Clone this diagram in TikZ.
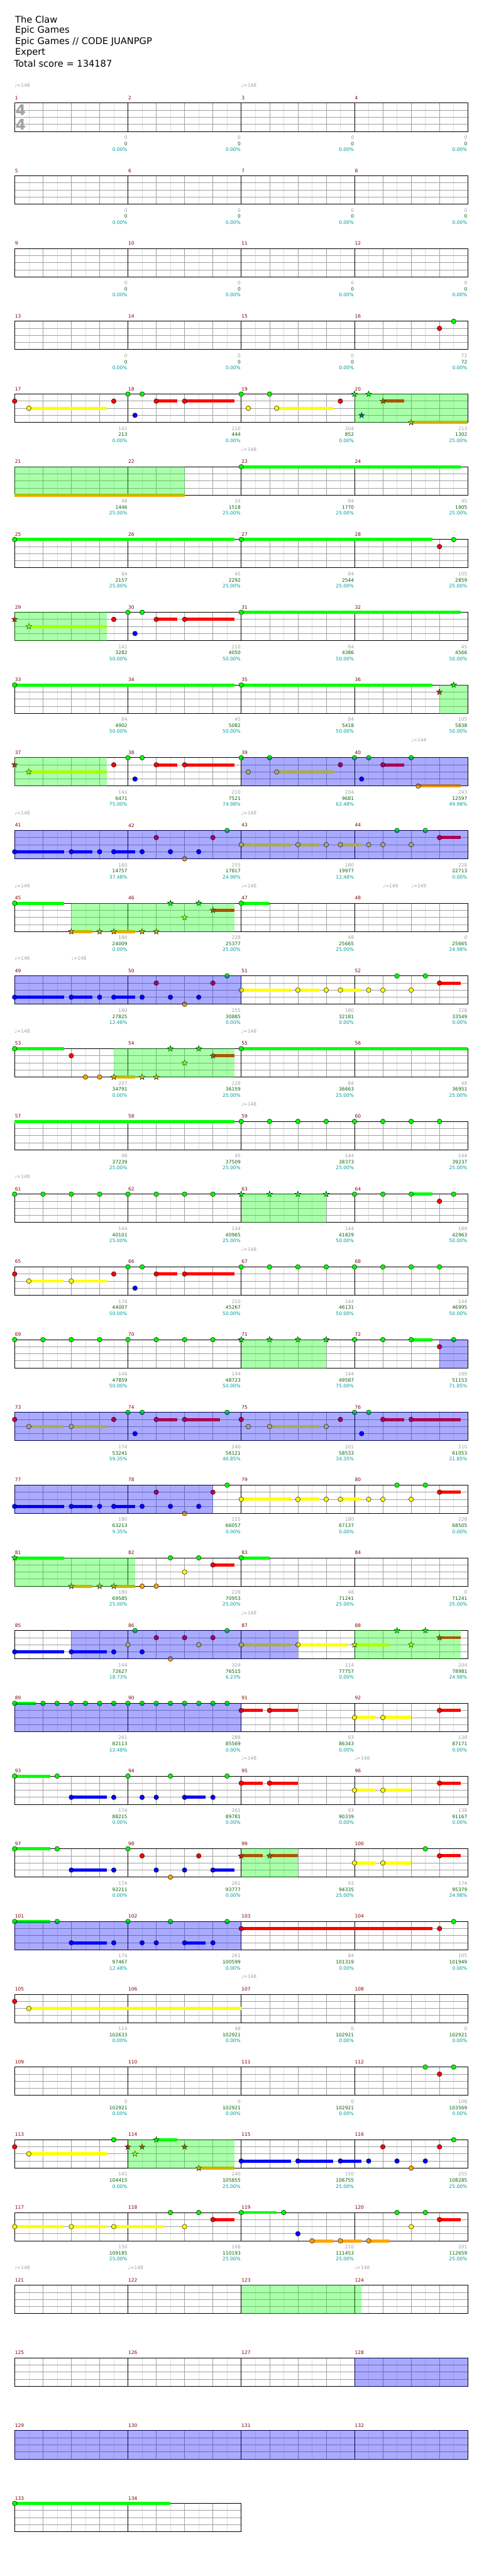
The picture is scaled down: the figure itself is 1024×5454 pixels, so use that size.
\documentclass[tikz,border=0pt]{standalone}
\usepackage{fontspec}
\setmainfont{DejaVu Sans}
\definecolor{lane0}{RGB}{0,255,0}
\definecolor{lane1}{RGB}{255,0,0}
\definecolor{lane2}{RGB}{255,255,0}
\definecolor{lane3}{RGB}{0,0,255}
\definecolor{lane4}{RGB}{255,165,0}
\definecolor{gridgray}{RGB}{160,160,160}
\definecolor{subgray}{RGB}{222,222,222}
\definecolor{numred}{RGB}{128,0,0}
\definecolor{scoregreen}{RGB}{0,100,0}
\definecolor{pctteal}{RGB}{0,155,155}

% one row of the chart: row index, number of measures
\newcommand{\staff}[2]{%
  \pgfmathsetmacro{\rtop}{218.3+154*#1}%
  \pgfmathsetmacro{\rwid}{240*#2}%
  \pgfmathtruncatemacro{\nsub}{8*#2-1}%
  \pgfmathtruncatemacro{\nbeat}{8*#2-2}%
  \foreach \i in {1,3,...,\nsub} {\draw[subline] ({31+30*\i},\rtop) -- ++(0,60);}
  \foreach \i in {2,4,...,\nbeat} {\draw[beatline] ({31+30*\i},\rtop) -- ++(0,60);}
  \foreach \l in {1,2,3} {\draw[laneline] (31,{\rtop+15*\l}) -- ++(\rwid,0);}
  \foreach \i in {8,16,...,\nbeat} {\draw[barline] ({31+30*\i},\rtop) -- ++(0,60);}
  \draw[border] (31,\rtop) rectangle ++(\rwid,60);
}
% note: row, eighth, lane
\newcommand{\nt}[3]{\draw[note, fill=lane#3] ({31+30*#2},{218.3+154*#1+15*#3}) circle (5);}
% star power note: row, eighth, lane
\newcommand{\st}[3]{\draw[note, fill=lane#3, shift={({31+30*#2},{218.3+154*#1+15*#3})}]
  (-90:6.5) -- (-54:2.6) -- (-18:6.5) -- (18:2.6) -- (54:6.5) -- (90:2.6)
  -- (126:6.5) -- (162:2.6) -- (198:6.5) -- (234:2.6) -- cycle;}
% sustain: row, from, to, lane
\newcommand{\sus}[4]{\fill[lane#4] ({31+30*#2},{218.3+154*#1+15*#4-3.3}) rectangle ({31+30*#3},{218.3+154*#1+15*#4+3.3});}
% star power phrase and activation: row, from, to
\newcommand{\spr}[3]{\fill[green, fill opacity=0.333] ({31+30*#2},{218.3+154*#1-0.7}) rectangle ({31+30*#3},{218.3+154*#1+60.7});}
\newcommand{\act}[3]{\fill[blue, fill opacity=0.333] ({31+30*#2},{218.3+154*#1-0.7}) rectangle ({31+30*#3},{218.3+154*#1+60.7});}
% tempo mark: row, eighth, bpm
\newcommand{\tempo}[3]{\node[tempo] (t#1-#2) at ({31+30*#2},{218.3+154*#1-37}) {♩=#3};}
% measure totals: measure, notes, score, percent
\newcommand{\lab}[4]{%
  \pgfmathtruncatemacro{\lr}{(#1-1)/4}%
  \pgfmathtruncatemacro{\lc}{mod(#1-1,4)}%
  \node[cnt] (c#1) at ({30+240*(\lc+1)},{218.3+154*\lr+73}) {#2};
  \node[scr] (s#1) at ({30+240*(\lc+1)},{218.3+154*\lr+86}) {#3};
  \node[pct] (p#1) at ({30+240*(\lc+1)},{218.3+154*\lr+98.5}) {#4\%};
}

\begin{document}
\begin{tikzpicture}[x=1pt, y=-1pt,
    subline/.style={draw=subgray, line width=0.8pt},
    beatline/.style={draw=gridgray, line width=0.8pt},
    laneline/.style={draw=gridgray, line width=1.1pt},
    barline/.style={draw=black, line width=0.8pt},
    border/.style={draw=black, line width=1.3pt},
    note/.style={draw=black, line width=0.6pt},
    title/.style={anchor=west, inner sep=0pt, font=\fontsize{19.5}{23}\selectfont},
    mnum/.style={anchor=west, inner sep=0.5pt, text=numred, font=\fontsize{10}{12}\selectfont},
    cnt/.style={anchor=east, inner sep=0pt, text=gridgray, font=\fontsize{10}{12}\selectfont},
    scr/.style={anchor=east, inner sep=0pt, text=scoregreen, font=\fontsize{10}{12}\selectfont},
    pct/.style={anchor=east, inner sep=0pt, text=pctteal, font=\fontsize{10}{12}\selectfont},
    tempo/.style={anchor=west, inner sep=0pt, text=gridgray, font=\fontsize{10}{12}\selectfont},
    tsig/.style={inner sep=0pt, text=gridgray, font=\fontsize{31}{31}\bfseries}]

  \useasboundingbox (0,0) rectangle (1024,5454);
  \fill[white] (0,0) rectangle (1024,5454);

  % Header
  \node[title] (song) at (32,42) {The Claw};
  \node[title] (artist) at (32,65) {Epic Games};
  \node[title] (album) at (32,88) {Epic Games // CODE JUANPGP};
  \node[title] (level) at (32,111) {Expert};
  \node[title] (total) at (30,134) {Total score = 134187};

  % Staves
  \foreach \r in {0,...,32} {\staff{\r}{4}}
  \staff{33}{2}
  \node[tsig] (ts1) at (44,233.5) {4};
  \node[tsig] (ts2) at (44,263.5) {4};

  % Measure numbers
  \foreach \m in {1,...,134} {
    \pgfmathtruncatemacro{\mr}{(\m-1)/4}
    \pgfmathtruncatemacro{\mc}{mod(\m-1,4)}
    \node[mnum] (mn\m) at ({31+240*\mc},{218.3+154*\mr-11}) {\m};
  }

  % Tempo marks
  \tempo{0}{0}{148} \tempo{0}{16}{148}
  \tempo{5}{16}{148}
  \tempo{9}{28}{144}
  \tempo{10}{0}{148} \tempo{10}{16}{148}
  \tempo{11}{0}{149} \tempo{11}{16}{146} \tempo{11}{26}{149} \tempo{11}{28}{149}
  \tempo{12}{0}{146} \tempo{12}{4}{148}
  \tempo{13}{0}{148} \tempo{13}{16}{148}
  \tempo{14}{16}{148}
  \tempo{15}{0}{148}
  \tempo{16}{16}{148}
  \tempo{21}{16}{148}
  \tempo{23}{16}{148} \tempo{23}{24}{148}
  \tempo{26}{16}{148}
  \tempo{30}{0}{148} \tempo{30}{8}{148} \tempo{30}{24}{148}

  % Totals under each measure
  \foreach \m in {1,...,15} {\lab{\m}{0}{0}{0.00}}
  \foreach \m/\a/\b/\c in {16/72/72/0.00,
      17/141/213/0.00, 18/210/444/0.00, 19/204/852/0.00, 20/213/1302/25.00,
      21/48/1446/25.00, 22/24/1518/25.00, 23/84/1770/25.00, 24/45/1905/25.00,
      25/84/2157/25.00, 26/45/2292/25.00, 27/84/2544/25.00, 28/105/2859/25.00,
      29/141/3282/50.00, 30/210/4050/50.00, 31/84/4386/50.00, 32/45/4566/50.00,
      33/84/4902/50.00, 34/45/5082/50.00, 35/84/5418/50.00, 36/105/5838/50.00,
      37/141/6471/75.00, 38/210/7521/74.98, 39/204/9681/62.48, 40/243/12597/49.98,
      41/180/14757/37.48, 42/255/17817/24.98, 43/180/19977/12.48, 44/228/22713/0.00,
      45/180/24009/0.00, 46/228/25377/25.00, 47/48/25665/25.00, 48/0/25665/24.98,
      49/180/27825/12.48, 50/255/30885/0.00, 51/180/32181/0.00, 52/228/33549/0.00,
      53/207/34791/0.00, 54/228/36159/25.00, 55/84/36663/25.00, 56/48/36951/25.00,
      57/48/37239/25.00, 58/45/37509/25.00, 59/144/38373/25.00, 60/144/39237/25.00,
      61/144/40101/25.00, 62/144/40965/25.00, 63/144/41829/50.00, 64/189/42963/50.00,
      65/174/44007/50.00, 66/210/45267/50.00, 67/144/46131/50.00, 68/144/46995/50.00,
      69/144/47859/50.00, 70/144/48723/50.00, 71/144/49587/75.00, 72/189/51153/71.85,
      73/174/53241/59.35, 74/240/56121/46.85, 75/201/58533/34.35, 76/210/61053/21.85,
      77/180/63213/9.35, 78/255/66057/0.00, 79/180/67137/0.00, 80/228/68505/0.00,
      81/180/69585/25.00, 82/228/70953/25.00, 83/48/71241/25.00, 84/0/71241/25.00,
      85/144/72627/18.73, 86/324/76515/6.23, 87/114/77757/0.00, 88/204/78981/24.98,
      89/261/82113/12.48, 90/288/85569/0.00, 91/93/86343/0.00, 92/138/87171/0.00,
      93/174/88215/0.00, 94/261/89781/0.00, 95/93/90339/0.00, 96/138/91167/0.00,
      97/174/92211/0.00, 98/261/93777/0.00, 99/93/94335/25.00, 100/174/95379/24.98,
      101/174/97467/12.48, 102/261/100599/0.00, 103/84/101319/0.00, 104/105/101949/0.00,
      105/114/102633/0.00, 106/48/102921/0.00, 107/0/102921/0.00, 108/0/102921/0.00,
      109/0/102921/0.00, 110/0/102921/0.00, 111/0/102921/0.00, 112/108/103569/0.00,
      113/141/104415/0.00, 114/240/105855/25.00, 115/150/106755/25.00, 116/255/108285/25.00,
      117/150/109185/25.00, 118/168/110193/25.00, 119/210/111453/25.00, 120/201/112659/25.00}
    {\lab{\m}{\a}{\b}{\c}}

  % 13-16
  \nt{3}{30}{1} \nt{3}{31}{0}

  % 17-20
  \sus{4}{1}{6.5}{2} \sus{4}{10}{11.5}{1} \sus{4}{12}{15.5}{1} \sus{4}{18.5}{22.5}{2}
  \sus{4}{26}{27.5}{1} \sus{4}{28}{32}{4}
  \nt{4}{0}{1} \nt{4}{1}{2} \nt{4}{7}{1} \nt{4}{8}{0} \nt{4}{8.5}{3} \nt{4}{9}{0}
  \nt{4}{10}{1} \nt{4}{12}{1} \nt{4}{16}{0} \nt{4}{16.5}{2} \nt{4}{18}{0} \nt{4}{18.5}{2} \nt{4}{23}{1}
  \st{4}{24}{0} \st{4}{25}{0} \st{4}{24.5}{3} \st{4}{26}{1} \st{4}{28}{4}
  \spr{4}{24}{32}

  % 21-24
  \sus{5}{0}{12}{4} \sus{5}{16}{31.5}{0}
  \nt{5}{16}{0}
  \spr{5}{0}{12}

  % 25-28
  \sus{6}{0}{15.5}{0} \sus{6}{16}{29.5}{0}
  \nt{6}{0}{0} \nt{6}{16}{0} \nt{6}{30}{1} \nt{6}{31}{0}

  % 29-32
  \sus{7}{1}{6.5}{2} \sus{7}{10}{11.5}{1} \sus{7}{12}{15.5}{1} \sus{7}{16}{31.5}{0}
  \st{7}{0}{1} \st{7}{1}{2}
  \nt{7}{7}{1} \nt{7}{8}{0} \nt{7}{8.5}{3} \nt{7}{9}{0} \nt{7}{10}{1} \nt{7}{12}{1} \nt{7}{16}{0}
  \spr{7}{0}{6.5}

  % 33-36
  \sus{8}{0}{15.5}{0} \sus{8}{16}{29.5}{0}
  \nt{8}{0}{0} \nt{8}{16}{0} \st{8}{30}{1} \st{8}{31}{0}
  \spr{8}{30}{32}

  % 37-40
  \sus{9}{1}{6.5}{2} \sus{9}{10}{11.5}{1} \sus{9}{12}{15.5}{1} \sus{9}{18.5}{22.5}{2}
  \sus{9}{26}{27.5}{1} \sus{9}{28.5}{31.5}{4}
  \st{9}{0}{1} \st{9}{1}{2}
  \nt{9}{7}{1} \nt{9}{8}{0} \nt{9}{8.5}{3} \nt{9}{9}{0} \nt{9}{10}{1} \nt{9}{12}{1}
  \nt{9}{16}{0} \nt{9}{16.5}{2} \nt{9}{18}{0} \nt{9}{18.5}{2} \nt{9}{23}{1} \nt{9}{24}{0}
  \nt{9}{24.5}{3} \nt{9}{25}{0} \nt{9}{26}{1} \nt{9}{28}{0} \nt{9}{28.5}{4}
  \spr{9}{0}{6.5} \act{9}{16}{32}

  % 41-44
  \sus{10}{0}{3.5}{3} \sus{10}{4}{5.5}{3} \sus{10}{7}{8.5}{3} \sus{10}{16}{19.5}{2}
  \sus{10}{20}{21.5}{2} \sus{10}{23}{24.5}{2} \sus{10}{30}{31.5}{1}
  \foreach \e in {0,4,6,7,9,11,13} {\nt{10}{\e}{3}}
  \foreach \e in {10,14,30} {\nt{10}{\e}{1}}
  \foreach \e in {16,20,22,23,25,26,28} {\nt{10}{\e}{2}}
  \foreach \e in {15,27,29} {\nt{10}{\e}{0}}
  \nt{10}{12}{4}
  \act{10}{0}{32}

  % 45-48
  \sus{11}{0}{3.5}{0} \sus{11}{4}{5.5}{4} \sus{11}{7}{8.5}{4} \sus{11}{14}{15.5}{1} \sus{11}{16}{18}{0}
  \nt{11}{0}{0}
  \foreach \e in {4,6,7,9,10} {\st{11}{\e}{4}}
  \st{11}{11}{0} \st{11}{13}{0} \st{11}{12}{2} \st{11}{14}{1}
  \nt{11}{16}{0}
  \spr{11}{4}{15.5}

  % 49-52
  \sus{12}{0}{3.5}{3} \sus{12}{4}{5.5}{3} \sus{12}{7}{8.5}{3} \sus{12}{16}{19.5}{2}
  \sus{12}{20}{21.5}{2} \sus{12}{23}{24.5}{2} \sus{12}{30}{31.5}{1}
  \foreach \e in {0,4,6,7,9,11,13} {\nt{12}{\e}{3}}
  \foreach \e in {10,14,30} {\nt{12}{\e}{1}}
  \foreach \e in {16,20,22,23,25,26,28} {\nt{12}{\e}{2}}
  \foreach \e in {15,27,29} {\nt{12}{\e}{0}}
  \nt{12}{12}{4}
  \act{12}{0}{16}

  % 53-56
  \sus{13}{0}{3.5}{0} \sus{13}{7}{8.5}{4} \sus{13}{14}{15.5}{1} \sus{13}{16}{32}{0}
  \nt{13}{0}{0} \nt{13}{4}{1} \nt{13}{5}{4} \nt{13}{6}{4}
  \foreach \e in {7,9,10} {\st{13}{\e}{4}}
  \st{13}{11}{0} \st{13}{13}{0} \st{13}{12}{2} \st{13}{14}{1}
  \nt{13}{16}{0}
  \spr{13}{7}{15.5}

  % 57-60
  \sus{14}{0}{15.5}{0}
  \foreach \e in {16,18,...,30} {\nt{14}{\e}{0}}

  % 61-64
  \sus{15}{28}{29.5}{0}
  \foreach \e in {0,2,...,14} {\nt{15}{\e}{0}}
  \foreach \e in {16,18,20,22} {\st{15}{\e}{0}}
  \foreach \e in {24,26,28,31} {\nt{15}{\e}{0}}
  \nt{15}{30}{1}
  \spr{15}{16}{22}

  % 65-68
  \sus{16}{1}{3.5}{2} \sus{16}{4}{6.5}{2} \sus{16}{10}{11.5}{1} \sus{16}{12}{15.5}{1}
  \nt{16}{0}{1} \nt{16}{1}{2} \nt{16}{4}{2} \nt{16}{7}{1} \nt{16}{8}{0} \nt{16}{8.5}{3}
  \nt{16}{9}{0} \nt{16}{10}{1} \nt{16}{12}{1}
  \foreach \e in {16,18,...,30} {\nt{16}{\e}{0}}

  % 69-72
  \sus{17}{28}{29.5}{0}
  \foreach \e in {0,2,...,14} {\nt{17}{\e}{0}}
  \foreach \e in {16,18,20,22} {\st{17}{\e}{0}}
  \foreach \e in {24,26,28,31} {\nt{17}{\e}{0}}
  \nt{17}{30}{1}
  \spr{17}{16}{22} \act{17}{30}{32}

  % 73-76
  \sus{18}{1}{3.5}{2} \sus{18}{4}{6.5}{2} \sus{18}{10}{11.5}{1} \sus{18}{12}{14.5}{1}
  \sus{18}{18}{21.5}{2} \sus{18}{26}{27.5}{1} \sus{18}{28}{31.5}{1}
  \foreach \e in {0,7,10,12,16,23,26,28} {\nt{18}{\e}{1}}
  \foreach \e in {1,4,16.5,18,22} {\nt{18}{\e}{2}}
  \foreach \e in {8,9,15,24,25} {\nt{18}{\e}{0}}
  \nt{18}{8.5}{3} \nt{18}{24.5}{3}
  \act{18}{0}{32}

  % 77-80
  \sus{19}{0}{3.5}{3} \sus{19}{4}{5.5}{3} \sus{19}{7}{8.5}{3} \sus{19}{16}{19.5}{2}
  \sus{19}{20}{21.5}{2} \sus{19}{23}{24.5}{2} \sus{19}{30}{31.5}{1}
  \foreach \e in {0,4,6,7,9,11,13} {\nt{19}{\e}{3}}
  \foreach \e in {10,14,30} {\nt{19}{\e}{1}}
  \foreach \e in {16,20,22,23,25,26,28} {\nt{19}{\e}{2}}
  \foreach \e in {15,27,29} {\nt{19}{\e}{0}}
  \nt{19}{12}{4}
  \act{19}{0}{14}

  % 81-84
  \sus{20}{0}{3.5}{0} \sus{20}{4}{5.5}{4} \sus{20}{7}{8.5}{4} \sus{20}{14}{15.5}{1} \sus{20}{16}{18}{0}
  \st{20}{0}{0} \st{20}{4}{4} \st{20}{6}{4} \st{20}{7}{4}
  \nt{20}{9}{4} \nt{20}{10}{4} \nt{20}{11}{0} \nt{20}{13}{0} \nt{20}{12}{2} \nt{20}{14}{1} \nt{20}{16}{0}
  \spr{20}{0}{8.5}

  % 85-88
  \sus{21}{0}{3.5}{3} \sus{21}{4}{6.5}{3} \sus{21}{16}{19.5}{2} \sus{21}{20}{23.5}{2}
  \sus{21}{24}{26.5}{2} \sus{21}{30}{31.5}{1}
  \foreach \e in {0,4,7,9} {\nt{21}{\e}{3}}
  \foreach \e in {8,13,16,20} {\nt{21}{\e}{2}}
  \foreach \e in {10,12,14} {\nt{21}{\e}{1}}
  \nt{21}{8.5}{0} \nt{21}{15}{0} \nt{21}{11}{4}
  \st{21}{24}{2} \st{21}{27}{0} \st{21}{29}{0} \st{21}{28}{2} \st{21}{30}{1}
  \act{21}{4}{20} \spr{21}{24}{31.5}

  % 89-92
  \sus{22}{0}{1.5}{0} \sus{22}{16}{17.5}{1} \sus{22}{18}{20}{1} \sus{22}{24}{25.5}{2}
  \sus{22}{26}{28}{2} \sus{22}{30}{31.5}{1}
  \foreach \e in {0,2,3,...,15} {\nt{22}{\e}{0}}
  \foreach \e in {16,18,30} {\nt{22}{\e}{1}}
  \nt{22}{24}{2} \nt{22}{26}{2}
  \act{22}{0}{16}

  % 93-96
  \sus{23}{0}{2.5}{0} \sus{23}{4}{6.5}{3} \sus{23}{12}{13.5}{3} \sus{23}{16}{17.5}{1}
  \sus{23}{18}{20}{1} \sus{23}{24}{25.5}{2} \sus{23}{26}{28}{2} \sus{23}{30}{31.5}{1}
  \foreach \e in {0,3,8,11,15} {\nt{23}{\e}{0}}
  \foreach \e in {4,7,9,10,12,14} {\nt{23}{\e}{3}}
  \foreach \e in {16,18,30} {\nt{23}{\e}{1}}
  \nt{23}{24}{2} \nt{23}{26}{2}

  % 97-100
  \sus{24}{0}{2.5}{0} \sus{24}{4}{6.5}{3} \sus{24}{14}{15.5}{3} \sus{24}{16}{17.5}{1}
  \sus{24}{18}{20}{1} \sus{24}{24}{25.5}{2} \sus{24}{26}{28}{2} \sus{24}{30}{31.5}{1}
  \foreach \e in {0,3,8,29} {\nt{24}{\e}{0}}
  \foreach \e in {4,7,10,12,14} {\nt{24}{\e}{3}}
  \foreach \e in {9,13,30} {\nt{24}{\e}{1}}
  \nt{24}{11}{4} \nt{24}{24}{2} \nt{24}{26}{2}
  \st{24}{16}{1} \st{24}{18}{1}
  \spr{24}{16}{20}

  % 101-104
  \sus{25}{0}{2.5}{0} \sus{25}{4}{6.5}{3} \sus{25}{12}{13.5}{3} \sus{25}{16}{29.5}{1}
  \foreach \e in {0,3,8,11,15,31} {\nt{25}{\e}{0}}
  \foreach \e in {4,7,9,10,12,14} {\nt{25}{\e}{3}}
  \nt{25}{16}{1} \nt{25}{30}{1}
  \act{25}{0}{16}

  % 105-108
  \sus{26}{1}{16}{2}
  \nt{26}{0}{1} \nt{26}{1}{2}

  % 109-112
  \nt{27}{29}{0} \nt{27}{30}{1} \nt{27}{31}{0}

  % 113-116
  \sus{28}{1}{6.5}{2} \sus{28}{10}{11.5}{0} \sus{28}{13}{15.5}{4} \sus{28}{16}{19.5}{3}
  \sus{28}{20}{22.5}{3} \sus{28}{23}{24.5}{3}
  \nt{28}{0}{1} \nt{28}{1}{2} \nt{28}{7}{0}
  \st{28}{8}{1} \st{28}{8.5}{2} \st{28}{9}{1} \st{28}{10}{0} \st{28}{12}{1} \st{28}{13}{4}
  \foreach \e in {16,20,23,25,27,29} {\nt{28}{\e}{3}}
  \nt{28}{26}{1} \nt{28}{30}{1} \nt{28}{28}{4} \nt{28}{31}{0}
  \spr{28}{8}{15.5}

  % 117-120
  \sus{29}{0}{3.5}{2} \sus{29}{4}{6.5}{2} \sus{29}{7}{10.5}{2} \sus{29}{14}{15.5}{1}
  \sus{29}{16}{18.5}{0} \sus{29}{21}{22.5}{4} \sus{29}{23}{24.5}{4} \sus{29}{25}{26.5}{4}
  \sus{29}{30}{31.5}{1}
  \foreach \e in {0,4,7,12,28} {\nt{29}{\e}{2}}
  \foreach \e in {11,13,16,19,27,29} {\nt{29}{\e}{0}}
  \nt{29}{14}{1} \nt{29}{30}{1} \nt{29}{20}{3}
  \foreach \e in {21,23,25} {\nt{29}{\e}{4}}

  % 121-124
  \spr{30}{16}{24.5}

  % 125-128
  \act{31}{24}{32}

  % 129-132
  \act{32}{0}{32}

  % 133-134
  \sus{33}{0}{11}{0}
  \nt{33}{0}{0}
\end{tikzpicture}
\end{document}
